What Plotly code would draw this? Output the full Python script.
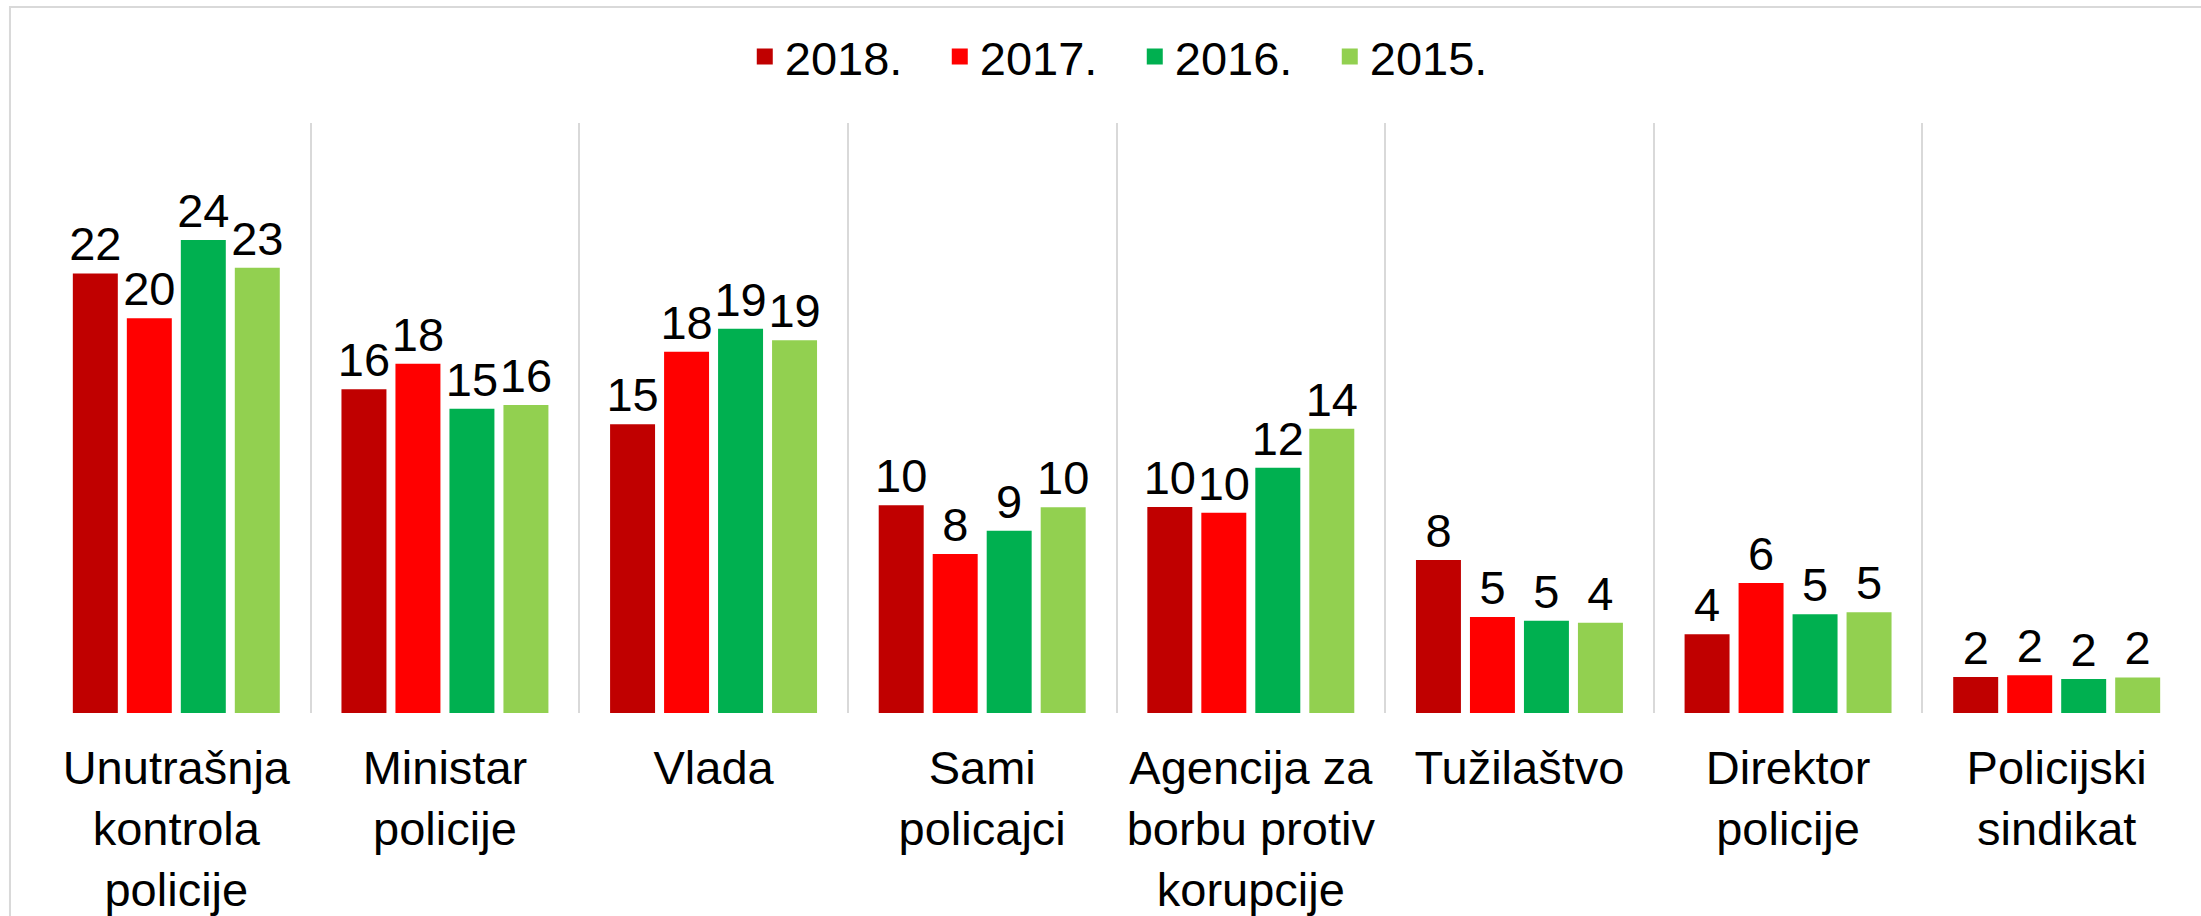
import plotly.graph_objects as go

categories = ["Unutrašnja<br>kontrola<br>policije", "Ministar<br>policije", "Vlada", "Sami<br>policajci",
              "Agencija za<br>borbu protiv<br>korupcije", "Tužilaštvo", "Direktor<br>policije", "Policijski<br>sindikat"]
series_names = ["2018.", "2017.", "2016.", "2015."]
v2018 = [22.35, 16.46, 14.68, 10.56, 10.47, 7.78, 4.0, 1.83]
v2017 = [20.07, 17.76, 18.37, 8.08, 10.18, 4.88, 6.61, 1.92]
v2016 = [24.05, 15.47, 19.54, 9.27, 12.47, 4.69, 5.02, 1.73]
v2015 = [22.64, 15.66, 18.95, 10.46, 14.45, 4.59, 5.12, 1.81]
lab2018 = [22, 16, 15, 10, 10, 8, 4, 2]
lab2017 = [20, 18, 18, 8, 10, 5, 6, 2]
lab2016 = [24, 15, 19, 9, 12, 5, 5, 2]
lab2015 = [23, 16, 19, 10, 14, 4, 5, 2]
colors = ["#C00000", "#FF0000", "#00B050", "#92D050"]

FONT = "Liberation Sans, Arial, sans-serif"
fig = go.Figure()
for name, vals, labs, col in zip(series_names, [v2018, v2017, v2016, v2015],
                                  [lab2018, lab2017, lab2016, lab2015], colors):
    fig.add_trace(go.Bar(x=categories, y=vals, name=name, marker_color=col,
                         marker_line_width=0, text=[str(l) for l in labs],
                         textposition="outside", constraintext="none", cliponaxis=False,
                         textfont=dict(size=47, color="black", family=FONT),
                         showlegend=False))
for name, col in zip(series_names, colors):
    fig.add_trace(go.Scatter(x=[None], y=[None], mode="markers", name=name,
                             marker=dict(symbol="square", size=16, color=col)))

fig.update_layout(
    width=2201, height=916,
    margin=dict(l=42, r=10, t=123, b=203, autoexpand=False),
    paper_bgcolor="white", plot_bgcolor="white",
    barmode="group", bargap=0.196, bargroupgap=0.167,
    font=dict(family=FONT, size=47, color="black"),
    legend=dict(orientation="h", x=0.5085, xanchor="center", y=1.112, yanchor="middle",
                font=dict(size=47, family=FONT), entrywidth=150, entrywidthmode="pixels",
                itemsizing="trace"),
    xaxis=dict(tickson="boundaries", showgrid=True, gridcolor="#d9d9d9", gridwidth=2,
               ticks="", showline=False, ticklabelstandoff=23, automargin=False,
               tickfont=dict(size=47, family=FONT, color="black")),
    yaxis=dict(range=[0, 30], visible=False, showgrid=False, automargin=False),
    shapes=[dict(type="rect", xref="paper", yref="paper", x0=-0.0149, x1=1.2, y0=-0.6, y1=1.1966,
                 line=dict(color="#d9d9d9", width=2), fillcolor="rgba(0,0,0,0)", layer="below")],
)
fig.write_html("out.html", config={"displayModeBar": False},
               post_script="document.body.style.margin='0';")
